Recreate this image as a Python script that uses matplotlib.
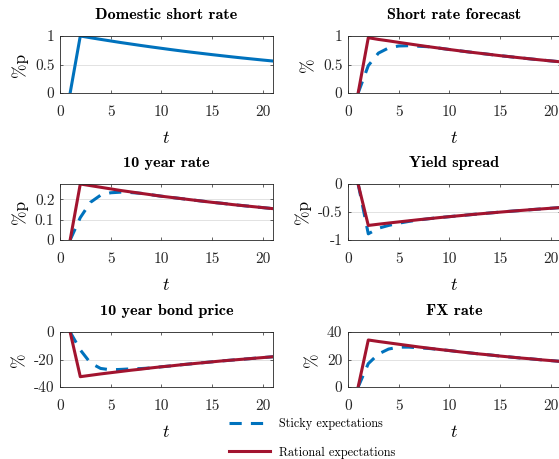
import matplotlib
matplotlib.use("Agg")
import matplotlib.pyplot as plt
from matplotlib.ticker import FuncFormatter

plt.rcParams['font.family'] = 'cmr10'
plt.rcParams['mathtext.fontset'] = 'cm'
plt.rcParams['axes.unicode_minus'] = False

t = list(range(1, 22))

domestic_short = [0, 1.0, 0.970, 0.941, 0.913, 0.885, 0.859, 0.833, 0.808, 0.784, 0.760,
                  0.737, 0.715, 0.694, 0.673, 0.653, 0.633, 0.614, 0.596, 0.578, 0.561]

forecast_rational = [0, 0.97, 0.94, 0.915, 0.888, 0.862, 0.836, 0.811, 0.787, 0.763, 0.740,
                     0.718, 0.697, 0.676, 0.655, 0.636, 0.617, 0.598, 0.580, 0.563, 0.546]
forecast_sticky = [0, 0.48, 0.70, 0.79, 0.825, 0.83, 0.82, 0.811, 0.787, 0.763, 0.740,
                   0.718, 0.697, 0.676, 0.655, 0.636, 0.617, 0.598, 0.580, 0.563, 0.546]

y10_rational = [0, 0.275, 0.267, 0.259, 0.251, 0.243, 0.236, 0.229, 0.222, 0.215, 0.209,
                0.203, 0.197, 0.191, 0.185, 0.180, 0.174, 0.169, 0.164, 0.159, 0.154]
y10_sticky = [0, 0.11, 0.185, 0.22, 0.232, 0.235, 0.233, 0.229, 0.222, 0.215, 0.209,
              0.203, 0.197, 0.191, 0.185, 0.180, 0.174, 0.169, 0.164, 0.159, 0.154]

spread_rational = [0, -0.74, -0.718, -0.697, -0.677, -0.657, -0.637, -0.619, -0.600, -0.583, -0.566,
                   -0.549, -0.533, -0.517, -0.502, -0.487, -0.473, -0.459, -0.446, -0.433, -0.420]
spread_sticky = [0, -0.89, -0.79, -0.74, -0.70, -0.668, -0.642, -0.619, -0.600, -0.583, -0.566,
                 -0.549, -0.533, -0.517, -0.502, -0.487, -0.473, -0.459, -0.446, -0.433, -0.420]

bond_rational = [0, -32.5, -31.5, -30.5, -29.6, -28.7, -27.8, -27.0, -26.1, -25.3, -24.6,
                 -23.8, -23.1, -22.4, -21.7, -21.0, -20.4, -19.8, -19.2, -18.6, -18.0]
bond_sticky = [0, -13.0, -22.5, -26.5, -27.5, -27.2, -26.8, -26.6, -26.1, -25.3, -24.6,
               -23.8, -23.1, -22.4, -21.7, -21.0, -20.4, -19.8, -19.2, -18.6, -18.0]

fx_rational = [0, 34.2, 33.1, 32.1, 31.1, 30.1, 29.1, 28.2, 27.3, 26.5, 25.6,
               24.8, 24.0, 23.3, 22.5, 21.8, 21.1, 20.5, 19.8, 19.2, 18.6]
fx_sticky = [0, 17.0, 24.0, 27.6, 29.0, 29.0, 28.5, 28.0, 27.3, 26.5, 25.6,
             24.8, 24.0, 23.3, 22.5, 21.8, 21.1, 20.5, 19.8, 19.2, 18.6]

titles = ["Domestic short rate", "Short rate forecast", "10 year rate",
          "Yield spread", "10 year bond price", "FX rate"]
ylabels = ["%p", "%", "%p", "%p", "%", "%"]
ylims = [(0, 1), (0, 1), (0, 0.275), (-1, 0), (-40, 0), (0, 40)]
yticks = [[0, 0.5, 1], [0, 0.5, 1], [0, 0.1, 0.2], [-1, -0.5, 0], [-40, -20, 0], [0, 20, 40]]
xticks = [0, 5, 10, 15, 20]

series = [
    (None, domestic_short),
    (forecast_sticky, forecast_rational),
    (y10_sticky, y10_rational),
    (spread_sticky, spread_rational),
    (bond_sticky, bond_rational),
    (fx_sticky, fx_rational),
]

BLUE = '#0072BD'
RED = '#A2142F'

W, H = 559, 459
fig = plt.figure(figsize=(W / 100, H / 100), dpi=100)

lefts = [60, 348]
rows = [(36, 93), (184, 240), (332, 387)]
width = 213

handles = None
for i in range(6):
    r, c = divmod(i, 2)
    top, bot = rows[r]
    ax = fig.add_axes([lefts[c] / W, 1 - bot / H, width / W, (bot - top) / H])
    sticky, rational = series[i]
    if sticky is None:
        ax.plot(t, rational, color=BLUE, lw=2.2, solid_joinstyle='miter')
    else:
        h1, = ax.plot(t, sticky, color=BLUE, lw=2.2, ls=(0, (4, 3)), label='Sticky expectations')
        h2, = ax.plot(t, rational, color=RED, lw=2.2, label='Rational expectations')
        handles = [h1, h2]
    ax.set_xlim(0, 21)
    ax.set_ylim(*ylims[i])
    ax.set_xticks(xticks)
    ax.set_yticks(yticks[i])
    ax.yaxis.set_major_formatter(FuncFormatter(lambda v, p: '%g' % v))
    ax.tick_params(direction='in', top=True, right=True, length=2.5, width=0.5,
                   labelsize=11, colors='#262626')
    ax.tick_params(axis='x', pad=9)
    ax.tick_params(axis='y', pad=4)
    ax.grid(axis='y', color='#dddddd', lw=0.6)
    ax.set_axisbelow(True)
    for s in ax.spines.values():
        s.set_color('#262626')
        s.set_linewidth(0.6)
    ax.set_title(titles[i], fontfamily='cmb10', fontsize=11.7, pad=12)
    ax.set_ylabel(ylabels[i], fontsize=12.5, labelpad=5)
    ax.set_xlabel('$t$', fontsize=13, labelpad=8)

fig.legend(handles, ['Sticky expectations', 'Rational expectations'],
           loc='upper left', bbox_to_anchor=(224 / W, 1 - 413 / H),
           frameon=False, fontsize=8.8, labelspacing=1.35, handlelength=3.4,
           handletextpad=0.7, borderaxespad=0)

fig.savefig('out.png', dpi=100)
